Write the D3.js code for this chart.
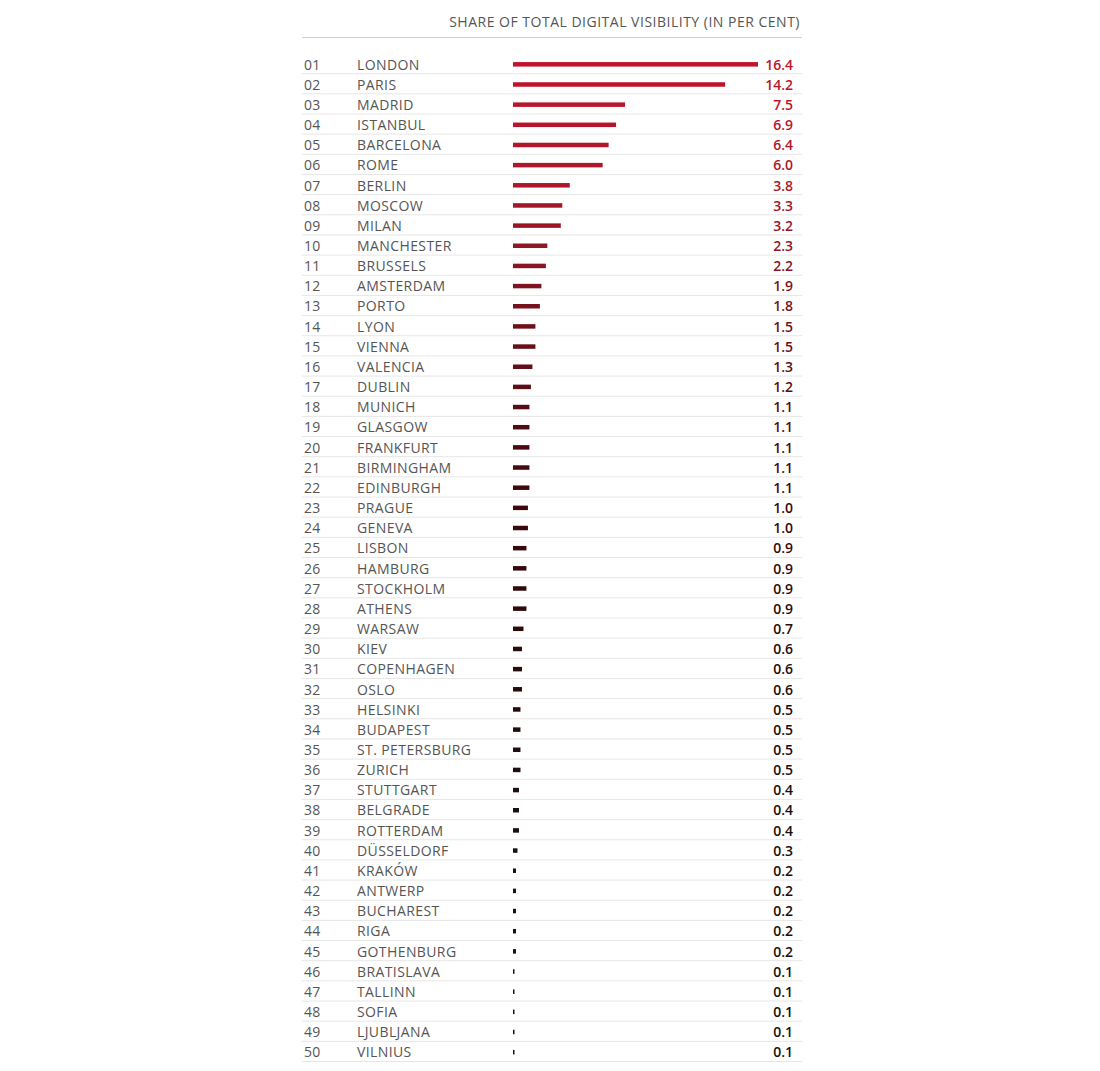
<!DOCTYPE html>
<html>
<head>
<meta charset="utf-8">
<script src="https://cdn.jsdelivr.net/npm/d3@7"></script>
<style>
  body { margin: 0; background: #fff; }
  text { font-family: "Open Sans", Roboto, sans-serif; }
</style>
</head>
<body>
<div id="chart"></div>
<script>
// city ranking, share of total digital visibility (%)
const cities = ['LONDON','PARIS','MADRID','ISTANBUL','BARCELONA','ROME','BERLIN','MOSCOW','MILAN','MANCHESTER',
  'BRUSSELS','AMSTERDAM','PORTO','LYON','VIENNA','VALENCIA','DUBLIN','MUNICH','GLASGOW','FRANKFURT',
  'BIRMINGHAM','EDINBURGH','PRAGUE','GENEVA','LISBON','HAMBURG','STOCKHOLM','ATHENS','WARSAW','KIEV',
  'COPENHAGEN','OSLO','HELSINKI','BUDAPEST','ST. PETERSBURG','ZURICH','STUTTGART','BELGRADE','ROTTERDAM','DÜSSELDORF',
  'KRAKÓW','ANTWERP','BUCHAREST','RIGA','GOTHENBURG','BRATISLAVA','TALLINN','SOFIA','LJUBLJANA','VILNIUS'];
const shares = [16.4,14.2,7.5,6.9,6.4,6.0,3.8,3.3,3.2,2.3,
  2.2,1.9,1.8,1.5,1.5,1.3,1.2,1.1,1.1,1.1,
  1.1,1.1,1.0,1.0,0.9,0.9,0.9,0.9,0.7,0.6,
  0.6,0.6,0.5,0.5,0.5,0.5,0.4,0.4,0.4,0.3,
  0.2,0.2,0.2,0.2,0.2,0.1,0.1,0.1,0.1,0.1];
const title = 'SHARE OF TOTAL DIGITAL VISIBILITY (IN PER CENT)';

const data = cities.map((c, i) => ({ i, rank: String(i + 1).padStart(2, '0'), city: c, v: shares[i] }));

const W = 1100, H = 1071;
const L = { left: 302, right: 802, rank: 304, city: 357, bar0: 513, valRight: 793 };

const svg = d3.select('#chart').append('svg')
  .attr('width', W).attr('height', H);

const x = d3.scaleLinear().domain([0, 16.4]).range([L.bar0, 758]);
const y = d3.scaleBand().domain(d3.range(data.length)).range([54, 1062]);

// colour fades from red to near black down the ranking
const rankColor = d3.scaleLinear()
  .domain([0, 6, 9, 13, 18, 22, 28, 36, 49])
  .range(['#c0142c', '#ad162b', '#901624', '#6e1019', '#500b12', '#3c080c', '#2c0a0a', '#1c0e0e', '#141212']);

// header
svg.append('text')
  .attr('x', L.right - 2).attr('y', 27)
  .attr('text-anchor', 'end')
  .attr('font-size', 14).attr('fill', '#555')
  .attr('letter-spacing', 0.5)
  .text(title);
svg.append('line')
  .attr('x1', L.left).attr('x2', L.right)
  .attr('y1', 37.5).attr('y2', 37.5)
  .attr('stroke', '#cfcfcf').attr('stroke-width', 1);

const row = svg.selectAll('.row').data(data).enter().append('g')
  .attr('class', 'row')
  .attr('transform', d => `translate(0,${y(d.i)})`);

const bw = y.bandwidth();

row.append('line')
  .attr('x1', L.left).attr('x2', L.right)
  .attr('y1', bw - 0.5).attr('y2', bw - 0.5)
  .attr('stroke', '#e6e6e6').attr('stroke-width', 1);

row.append('text')
  .attr('x', L.rank).attr('y', bw / 2 + 5.5)
  .attr('font-size', 14).attr('fill', '#555')
  .attr('letter-spacing', 0.3)
  .text(d => d.rank);

row.append('text')
  .attr('x', L.city).attr('y', bw / 2 + 5.5)
  .attr('font-size', 14).attr('fill', '#555')
  .attr('letter-spacing', 0.4)
  .text(d => d.city);

row.append('rect')
  .attr('x', x(0)).attr('y', bw / 2 - 2)
  .attr('width', d => Math.max(1.3, x(d.v) - x(0)))
  .attr('height', 4.5)
  .attr('fill', d => rankColor(d.i));

row.append('text')
  .attr('x', L.valRight).attr('y', bw / 2 + 5.5)
  .attr('text-anchor', 'end')
  .attr('font-size', 14).attr('font-weight', 600)
  .attr('fill', d => rankColor(d.i))
  .text(d => d.v.toFixed(1));
</script>
</body>
</html>
